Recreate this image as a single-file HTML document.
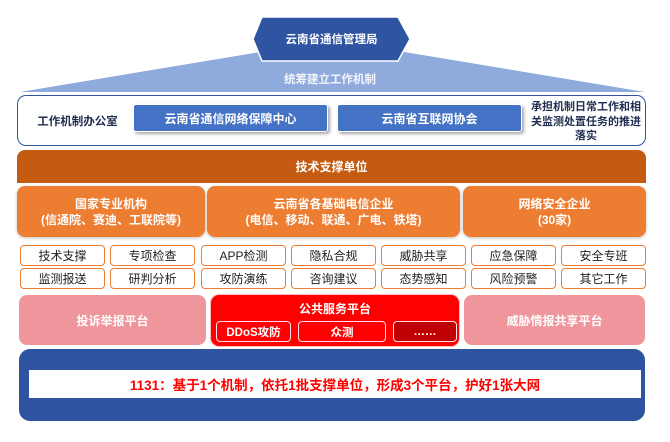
<!DOCTYPE html>
<html><head><meta charset="utf-8"><style>
*{margin:0;padding:0;box-sizing:border-box}
html,body{width:670px;height:442px;background:#fff;overflow:hidden}
body{position:relative;font-family:"Liberation Sans","Noto Sans CJK SC",sans-serif}
.a{position:absolute;display:flex;align-items:center;justify-content:center;text-align:center}
.w{color:#fff;font-weight:bold}
.blue{background:#4472c4;border:1px solid #fff;border-radius:3px;box-shadow:2px 2px 3px rgba(0,0,0,.35);font-size:12px}
.org{background:#ed7d31;border-radius:8px;box-shadow:0 1px 3px rgba(0,0,0,.25);font-size:12px;line-height:16px;flex-direction:column}
.sm{background:#fff;border:1.5px solid #ed7d31;border-radius:4px;font-size:12px;color:#222;width:85px;height:21px}
.pink{background:#ef959c;border-radius:8px;font-size:12px}
.sub{border:1.5px solid #fde;border-radius:4px;height:21px;top:321px;font-size:11.5px}
</style></head><body>
<svg width="670" height="100" style="position:absolute;left:0;top:0">
<polygon points="20,92 332,40 645,92" fill="#8faadc"/>
<polygon points="253,39 262,17 398,17 410,39 398,61 262,61" fill="#2f54a1" stroke="#fff" stroke-width="1.5"/>
</svg>
<div class="a w" style="left:253px;top:17px;width:157px;height:44px;font-size:11.5px">云南省通信管理局</div>
<div class="a w" style="left:230px;top:70px;width:200px;height:18px;font-size:11.5px;color:#f4f6fc">统筹建立工作机制</div>

<div style="position:absolute;left:17px;top:95px;width:629px;height:51px;border:1.5px solid #2f54a1;border-radius:9px"></div>
<div class="a" style="left:30px;top:112px;width:95px;height:18px;font-size:11.5px;font-weight:bold;color:#1f2d50">工作机制办公室</div>
<div class="a w blue" style="left:133px;top:104px;width:195px;height:28px">云南省通信网络保障中心</div>
<div class="a w blue" style="left:337px;top:104px;width:185px;height:28px">云南省互联网协会</div>
<div class="a" style="left:530px;top:100px;width:112px;height:44px;font-size:11px;line-height:14.5px;font-weight:bold;color:#1f2d50">承担机制日常工作和相关监测处置任务的推进落实</div>

<div class="a w" style="left:17px;top:150px;width:629px;height:33px;background:#c55a11;border-radius:8px 8px 0 0;font-size:12px">技术支撑单位</div>

<div class="a w org" style="left:17px;top:186px;width:188px;height:51px"><div>国家专业机构</div><div>(信通院、赛迪、工联院等)</div></div>
<div class="a w org" style="left:207px;top:186px;width:253px;height:51px"><div>云南省各基础电信企业</div><div>(电信、移动、联通、广电、铁塔)</div></div>
<div class="a w org" style="left:463px;top:186px;width:183px;height:51px"><div>网络安全企业</div><div>(30家)</div></div>

<div class="a sm" style="left:20px;top:245px">技术支撑</div>
<div class="a sm" style="left:110px;top:245px">专项检查</div>
<div class="a sm" style="left:201px;top:245px">APP检测</div>
<div class="a sm" style="left:291px;top:245px">隐私合规</div>
<div class="a sm" style="left:381px;top:245px">威胁共享</div>
<div class="a sm" style="left:471px;top:245px">应急保障</div>
<div class="a sm" style="left:561px;top:245px">安全专班</div>
<div class="a sm" style="left:20px;top:268px">监测报送</div>
<div class="a sm" style="left:110px;top:268px">研判分析</div>
<div class="a sm" style="left:201px;top:268px">攻防演练</div>
<div class="a sm" style="left:291px;top:268px">咨询建议</div>
<div class="a sm" style="left:381px;top:268px">态势感知</div>
<div class="a sm" style="left:471px;top:268px">风险预警</div>
<div class="a sm" style="left:561px;top:268px">其它工作</div>

<div class="a w pink" style="left:19px;top:295px;width:187px;height:50px">投诉举报平台</div>
<div class="a w pink" style="left:464px;top:295px;width:181px;height:50px">威胁情报共享平台</div>
<div style="position:absolute;left:211px;top:295px;width:248px;height:51px;background:#ff0000;border-radius:8px;box-shadow:0 0 0 1px #fbb"></div>
<div class="a w" style="left:211px;top:299px;width:248px;height:18px;font-size:12px">公共服务平台</div>
<div class="a w sub" style="left:216px;width:75px">DDoS攻防</div>
<div class="a w sub" style="left:298px;width:88px">众测</div>
<div class="a w sub" style="left:393px;width:64px;background:#c00000">……</div>

<div style="position:absolute;left:19px;top:349px;width:626px;height:72px;background:#2e54a1;border-radius:11px"></div>
<div class="a" style="left:29px;top:370px;width:612px;height:28px;background:#fff;color:#ff0000;font-weight:bold;font-size:13.5px">1131：基于1个机制，依托1批支撑单位，形成3个平台，护好1张大网</div>
</body></html>
